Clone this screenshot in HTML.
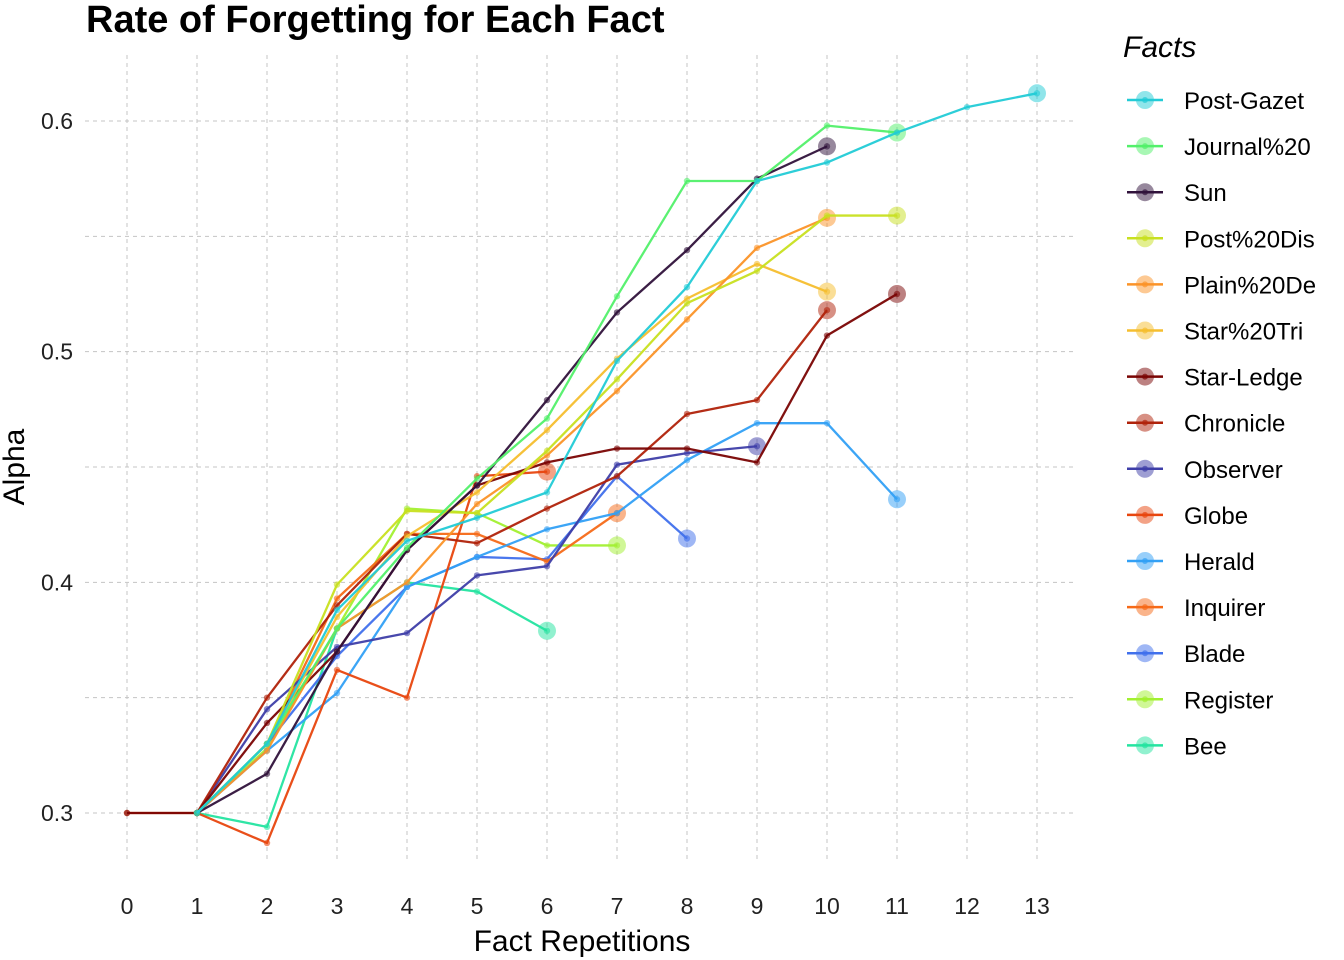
<!DOCTYPE html>
<html><head><meta charset="utf-8">
<style>
html,body{margin:0;padding:0;background:#fff;}
svg{display:block;font-family:"Liberation Sans",Arial,sans-serif;}
</style></head>
<body>
<svg id="chart" width="1344" height="960" viewBox="0 0 1344 960" xmlns="http://www.w3.org/2000/svg">
<text x="86" y="32" font-size="38" font-weight="bold" fill="#000">Rate of Forgetting for Each Fact</text>
<text transform="translate(24,467) rotate(-90)" text-anchor="middle" font-size="30" fill="#000">Alpha</text>
<text x="582" y="951" text-anchor="middle" font-size="30" fill="#000">Fact Repetitions</text>
<text x="1123" y="57" font-size="30" font-style="italic" fill="#000">Facts</text>
<g id="grid"></g>
<g id="ticks"></g>
<g id="series"></g>
<g id="legend"></g>
</svg>
<script>
const xTicks = [0,1,2,3,4,5,6,7,8,9,10,11,12,13];
const yTicks = [0.3,0.4,0.5,0.6];
const yTickLabels = ["0.3","0.4","0.5","0.6"];
const factNames = ["Post-Gazet","Journal%20","Sun","Post%20Dis","Plain%20De","Star%20Tri","Star-Ledge","Chronicle","Observer","Globe","Herald","Inquirer","Blade","Register","Bee"];
const factColors = ["#22CBD6","#52F06A","#30123B","#C8E020","#FB9328","#F5BE2E","#7A0403","#B0220A","#3E3EA8","#E8460E","#32A0F5","#F66A18","#4070EC","#A2F030","#24E4A0"];
const startX = [1,1,1,1,1,1,0,1,1,0,1,1,1,1,1];
const vPostGazet = [0.3,0.33,0.388,0.418,0.428,0.439,0.496,0.528,0.574,0.582,0.595,0.606,0.612];
const vJournal = [0.3,0.33,0.38,0.415,0.445,0.471,0.524,0.574,0.574,0.598,0.595];
const vSun = [0.3,0.317,0.37,0.414,0.442,0.479,0.517,0.544,0.575,0.589];
const vPostDis = [0.3,0.33,0.399,0.431,0.43,0.457,0.488,0.521,0.535,0.559,0.559];
const vPlain = [0.3,0.327,0.38,0.40,0.434,0.455,0.483,0.514,0.545,0.558];
const vStarTri = [0.3,0.33,0.385,0.42,0.439,0.466,0.497,0.523,0.538,0.526];
const vStarLedge = [0.3,0.3,0.339,0.37,0.414,0.442,0.452,0.458,0.458,0.452,0.507,0.525];
const vChronicle = [0.3,0.35,0.39,0.421,0.417,0.432,0.446,0.473,0.479,0.518];
const vObserver = [0.3,0.345,0.372,0.378,0.403,0.407,0.451,0.456,0.459];
const vGlobe = [0.3,0.3,0.287,0.362,0.35,0.446,0.448];
const vHerald = [0.3,0.327,0.352,0.398,0.411,0.423,0.430,0.453,0.469,0.469,0.436];
const vInquirer = [0.3,0.33,0.393,0.421,0.421,0.409,0.430];
const vBlade = [0.3,0.33,0.368,0.398,0.411,0.41,0.446,0.419];
const vRegister = [0.3,0.328,0.38,0.432,0.43,0.416,0.416];
const vBee = [0.3,0.294,0.38,0.40,0.396,0.379];
const allValues = [vPostGazet,vJournal,vSun,vPostDis,vPlain,vStarTri,vStarLedge,vChronicle,vObserver,vGlobe,vHerald,vInquirer,vBlade,vRegister,vBee];

const NS="http://www.w3.org/2000/svg";
function xs(v){return 127+v*70;}
function ys(v){return 813-(v-0.3)*2306.7;}
function mk(tag,attrs,parent){const e=document.createElementNS(NS,tag);for(const k in attrs)e.setAttribute(k,attrs[k]);parent.appendChild(e);return e;}

const grid=document.getElementById('grid');
for(let i=0;i<xTicks.length;i++){
  const l=mk('line',{x1:xs(xTicks[i]),x2:xs(xTicks[i]),y1:55,y2:862,stroke:'#c4c4c4','stroke-width':1,'stroke-dasharray':'4,4'},grid);
  
  
}
for(let v=0.3;v<=0.6001;v+=0.05){
  const l=mk('line',{x1:85,x2:1075,y1:ys(v),y2:ys(v),stroke:'#c4c4c4','stroke-width':1,'stroke-dasharray':'4,4'},grid);
  
  
}
const ticks=document.getElementById('ticks');
for(let i=0;i<xTicks.length;i++){
  const t=mk('text',{x:xs(xTicks[i]),y:914,'text-anchor':'middle','font-size':23,fill:'#222'},ticks);
  t.textContent=String(xTicks[i]);
  
  
}
for(let i=0;i<yTicks.length;i++){
  const t=mk('text',{x:73,y:ys(yTicks[i])+8,'text-anchor':'end','font-size':23,fill:'#222'},ticks);
  t.textContent=yTickLabels[i];
  
  
}
const sg=document.getElementById('series');
for(let s=allValues.length-1;s>=0;s--){
  const vals=allValues[s],c=factColors[s],x0=startX[s];
  const g=mk('g',{},sg);
  
  
  const pts=vals.map((v,i)=>xs(x0+i)+','+ys(v)).join(' ');
  mk('polyline',{points:pts,fill:'none',stroke:c,'stroke-width':2.3,'stroke-opacity':0.95,'stroke-linejoin':'round'},g);
  vals.forEach((v,i)=>{
    const p=mk('circle',{cx:xs(x0+i),cy:ys(v),r:3.2,fill:c,'fill-opacity':0.6},g);
    
    
  });
  const last=vals.length-1;
  const e=mk('circle',{cx:xs(x0+last),cy:ys(vals[last]),r:9,fill:c,'fill-opacity':0.5},g);
  
  
}
const lg=document.getElementById('legend');
for(let i=0;i<factNames.length;i++){
  const y=100+i*46.1;
  const g=mk('g',{},lg);
  
  
  mk('line',{x1:1127,x2:1163,y1:y,y2:y,stroke:factColors[i],'stroke-width':2.5},g);
  mk('circle',{cx:1145,cy:y,r:9,fill:factColors[i],'fill-opacity':0.5},g);
  mk('circle',{cx:1145,cy:y,r:3,fill:factColors[i],'fill-opacity':0.7},g);
  const t=mk('text',{x:1184,y:y+9,'font-size':24,fill:'#000'},g);
  t.textContent=factNames[i];
}
</script>
</body></html>
